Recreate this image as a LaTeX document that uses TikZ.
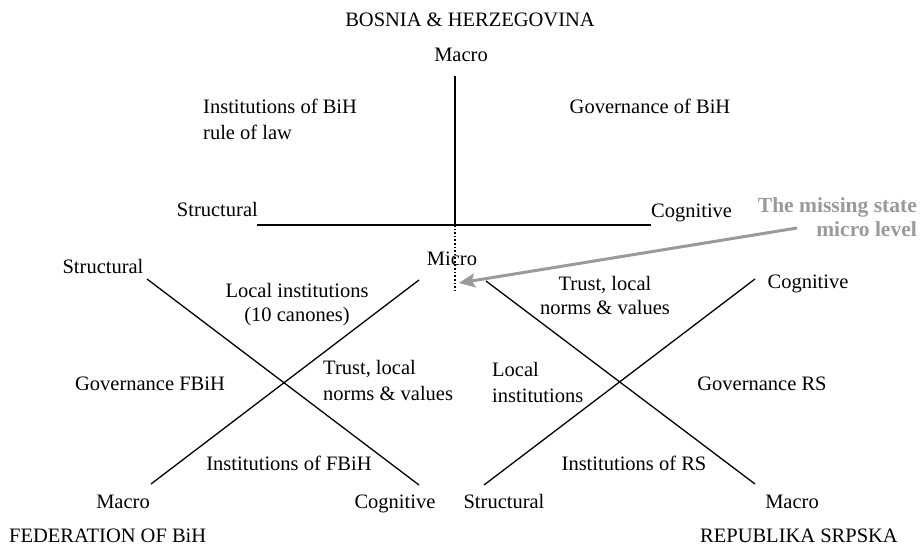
\documentclass[tikz,border=0pt]{standalone}
\usepackage{fontspec}
\setmainfont{Liberation Serif}
\usetikzlibrary{arrows.meta}
\begin{document}
\begin{tikzpicture}[x=1pt,y=-1pt,
  lbl/.style={inner sep=0pt,anchor=base,font=\fontsize{20.5}{26}\selectfont},
  axis/.style={line width=1.3pt,black},
  note/.style={inner sep=0pt,anchor=base east,text=notegray,
    font=\fontsize{21.5}{23}\selectfont\bfseries},
  pointer/.style={line width=3pt,draw=notegray,
    -{Stealth[length=16pt,width=14pt,inset=3pt]}}]
\definecolor{notegray}{HTML}{9A9A9A}
\useasboundingbox (0,0) rectangle (922,546);

% --- Bosnia & Herzegovina: cross of axes ---
\node[lbl] (bih) at (470,27) {BOSNIA \& HERZEGOVINA};
\node[lbl] (bihmacro) at (461,61) {Macro};
\coordinate (vtop) at (455,76);
\coordinate (vmid) at (455,225);
\coordinate (vbot) at (455,293);
\coordinate (hleft) at (257,225);
\coordinate (hright) at (651,225);
\draw[axis] (vtop) -- (vmid);
\draw[axis] (hleft) -- (hright);
\draw[line width=1.6pt,dotted] (vmid) -- (vbot);
\node[lbl,anchor=base east] (bihstruct) at (258,216) {Structural};
\node[lbl,anchor=base west] (bihcog) at (651,217) {Cognitive};
\node[lbl] (bihmicro) at (452,265) {Micro};
\node[lbl,anchor=base west] (bihinst1) at (203,113) {Institutions of BiH};
\node[lbl,anchor=base west] (bihinst2) at (203,139) {rule of law};
\node[lbl] (bihgov) at (650,113) {Governance of BiH};

% --- annotation ---
\node[note] (miss1) at (917,212) {The missing state};
\node[note] (miss2) at (917,236) {micro level};
\coordinate (arrstart) at (797,228);
\coordinate (arrend) at (459,283);
\draw[pointer] (arrstart) -- (arrend);

% --- Federation of BiH ---
\coordinate (fa1) at (147,279);
\coordinate (fa2) at (419,485);
\coordinate (fb1) at (419,280);
\coordinate (fb2) at (151,484);
\draw[axis] (fa1) -- (fa2);
\draw[axis] (fb1) -- (fb2);
\node[lbl] (fstruct) at (103,273) {Structural};
\node[lbl] (fmacro) at (123,508) {Macro};
\node[lbl] (fcog) at (395,508) {Cognitive};
\node[lbl] (floc1) at (297,297) {Local institutions};
\node[lbl] (floc2) at (297,321) {(10 canones)};
\node[lbl,anchor=base west] (ftrust1) at (323,374) {Trust, local};
\node[lbl,anchor=base west] (ftrust2) at (323,400) {norms \& values};
\node[lbl] (fgov) at (150,390) {Governance FBiH};
\node[lbl] (finst) at (289,470) {Institutions of FBiH};
\node[lbl,anchor=base west] (fed) at (9,542) {FEDERATION OF BiH};

% --- Republika Srpska ---
\coordinate (rc1) at (755,279);
\coordinate (rc2) at (484,485);
\coordinate (rd1) at (486,281);
\coordinate (rd2) at (755,484);
\draw[axis] (rc1) -- (rc2);
\draw[axis] (rd1) -- (rd2);
\node[lbl] (rcog) at (808,288) {Cognitive};
\node[lbl] (rstruct) at (504,508) {Structural};
\node[lbl] (rmacro) at (792,508) {Macro};
\node[lbl] (rtrust1) at (605,290) {Trust, local};
\node[lbl] (rtrust2) at (605,314) {norms \& values};
\node[lbl,anchor=base west] (rloc1) at (492,376) {Local};
\node[lbl,anchor=base west] (rloc2) at (492,402) {institutions};
\node[lbl] (rgov) at (762,390) {Governance RS};
\node[lbl] (rinst) at (634,470) {Institutions of RS};
\node[lbl,anchor=base east] (rs) at (898,542) {REPUBLIKA SRPSKA};
\end{tikzpicture}
\end{document}
